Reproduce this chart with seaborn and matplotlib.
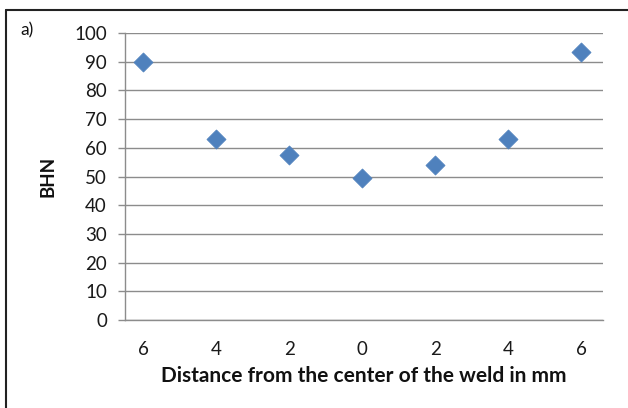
import numpy as np
import pandas as pd
import seaborn as sns
import matplotlib.pyplot as plt
from matplotlib.lines import Line2D

# distance labels along the weld, left to right
distance_labels = ['6', '4', '2', '0', '2', '4', '6']
positions = [1, 2, 3, 4, 5, 6, 7]
bhn = [90, 63, 57.5, 49.5, 54, 63, 93.5]
y_ticks = [0, 10, 20, 30, 40, 50, 60, 70, 80, 90, 100]

sns.set_theme(style='white')
plt.rcParams['font.family'] = ['Lato', 'DejaVu Sans']

df = pd.DataFrame({'pos': positions, 'BHN': bhn})

fig = plt.figure(figsize=(6.28, 4.08), dpi=100)
ax = fig.add_axes([0.199, 0.2157, 0.761, 0.7033])

sns.scatterplot(data=df, x='pos', y='BHN', marker='D', s=95,
                color='#4F81BD', edgecolor='#4F81BD', linewidth=0.5,
                ax=ax, zorder=3)

ax.set_xlim(0.75, 7.3)
ax.set_ylim(0, 100)
ax.set_yticks(y_ticks)
ax.set_xticks(positions)
ax.set_xticklabels(distance_labels)
ax.yaxis.grid(True, color='#8c8c8c', linewidth=1.0)
ax.set_axisbelow(True)

for side in ['top', 'right']:
    ax.spines[side].set_visible(False)
for side in ['left', 'bottom']:
    ax.spines[side].set_color('#8c8c8c')
    ax.spines[side].set_linewidth(1.0)

ax.tick_params(axis='y', which='major', left=True, length=5, width=1.0,
               color='#8c8c8c', labelsize=13.5, pad=8, labelcolor='#1a1a1a')
ax.tick_params(axis='x', which='major', bottom=False, labelsize=13.5,
               pad=9, labelcolor='#1a1a1a')

ax.set_xlabel('Distance from the center of the weld in mm', fontsize=15,
              fontweight='bold', labelpad=6, color='#111111')
ax.set_ylabel('BHN', fontsize=13.5, fontweight='bold', labelpad=13,
              color='#111111')

fig.text(0.032, 0.912, 'a)', fontsize=12.5, color='#111111')

# chart frame (left and top edges show in the crop)
fig.add_artist(Line2D([0.009, 0.009], [0, 0.976], transform=fig.transFigure,
                      color='#222222', linewidth=1.5))
fig.add_artist(Line2D([0.009, 1.0], [0.976, 0.976], transform=fig.transFigure,
                      color='#222222', linewidth=1.5))

plt.savefig('out.png', dpi=100)
